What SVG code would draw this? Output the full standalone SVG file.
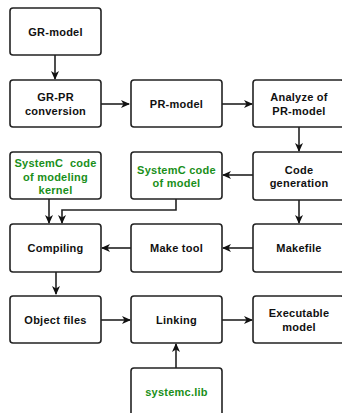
<svg xmlns="http://www.w3.org/2000/svg" width="342" height="413" viewBox="0 0 342 413">
<defs>
<marker id="ah" markerWidth="10" markerHeight="10" refX="8" refY="5" orient="auto" markerUnits="userSpaceOnUse">
<path d="M0,1 L9,5 L0,9 L2.5,5 Z" fill="#111"/>
</marker>
<style>
.b{fill:#fff;stroke:#222;stroke-width:1.6}
.t{font-family:"Liberation Sans",Arial,sans-serif;font-weight:bold;font-size:11px;letter-spacing:0.25px;text-anchor:middle;fill:#111}
.g{fill:#1a8f1a}
.c{fill:none;stroke:#222;stroke-width:1.6;marker-end:url(#ah)}
</style>
</defs>
<rect width="342" height="413" fill="#fff"/>
<g id="connectors">
<path class="c" d="M55,55 V79"/>
<path class="c" d="M101,104 H129"/>
<path class="c" d="M222,104 H252"/>
<path class="c" d="M299,127 V151"/>
<path class="c" d="M253,175 H223"/>
<path class="c" d="M176,199 V210 H62 V223"/>
<path class="c" d="M49,199 V223"/>
<path class="c" d="M299,200 V223"/>
<path class="c" d="M253,248 H223"/>
<path class="c" d="M131,248 H102"/>
<path class="c" d="M56,272 V294"/>
<path class="c" d="M101,320 H130"/>
<path class="c" d="M222,320 H252"/>
<path class="c" d="M176,368 V344"/>
</g>
<g id="gr-model"><rect class="b" x="10" y="8" width="91" height="47" rx="3"/><text class="t" x="55.5" y="36">GR-model</text></g>
<g id="gr-pr"><rect class="b" x="10" y="80" width="91" height="47" rx="3"/><text class="t" x="55.5" y="101">GR-PR</text><text class="t" x="55.5" y="115">conversion</text></g>
<g id="pr-model"><rect class="b" x="131" y="80" width="91" height="47" rx="3"/><text class="t" x="176.5" y="108">PR-model</text></g>
<g id="analyze"><rect class="b" x="253" y="80" width="91" height="47" rx="3"/><text class="t" x="299" y="101">Analyze of</text><text class="t" x="299" y="115">PR-model</text></g>
<g id="kernel"><rect class="b" x="10" y="152" width="91" height="47" rx="3"/><text class="t g" x="55.5" y="167" xml:space="preserve">SystemC  code</text><text class="t g" x="55.5" y="180.5">of modeling</text><text class="t g" x="55.5" y="194">kernel</text></g>
<g id="sc-model"><rect class="b" x="131" y="152" width="91" height="47" rx="3"/><text class="t g" x="176.5" y="174">SystemC code</text><text class="t g" x="176.5" y="187">of model</text></g>
<g id="codegen"><rect class="b" x="253" y="152" width="91" height="48" rx="3"/><text class="t" x="299" y="174">Code</text><text class="t" x="299" y="187">generation</text></g>
<g id="compiling"><rect class="b" x="10" y="224" width="91" height="48" rx="3"/><text class="t" x="55.5" y="252">Compiling</text></g>
<g id="maketool"><rect class="b" x="131" y="224" width="91" height="48" rx="3"/><text class="t" x="176.5" y="252">Make tool</text></g>
<g id="makefile"><rect class="b" x="253" y="224" width="91" height="48" rx="3"/><text class="t" x="299" y="252">Makefile</text></g>
<g id="objfiles"><rect class="b" x="10" y="296" width="91" height="47" rx="3"/><text class="t" x="55.5" y="324">Object files</text></g>
<g id="linking"><rect class="b" x="131" y="296" width="91" height="47" rx="3"/><text class="t" x="176.5" y="324">Linking</text></g>
<g id="executable"><rect class="b" x="253" y="296" width="91" height="47" rx="3"/><text class="t" x="299" y="317">Executable</text><text class="t" x="299" y="331">model</text></g>
<g id="systemc-lib"><rect class="b" x="131" y="368" width="91" height="50" rx="3"/><text class="t g" x="176.5" y="396">systemc.lib</text></g>
</svg>
